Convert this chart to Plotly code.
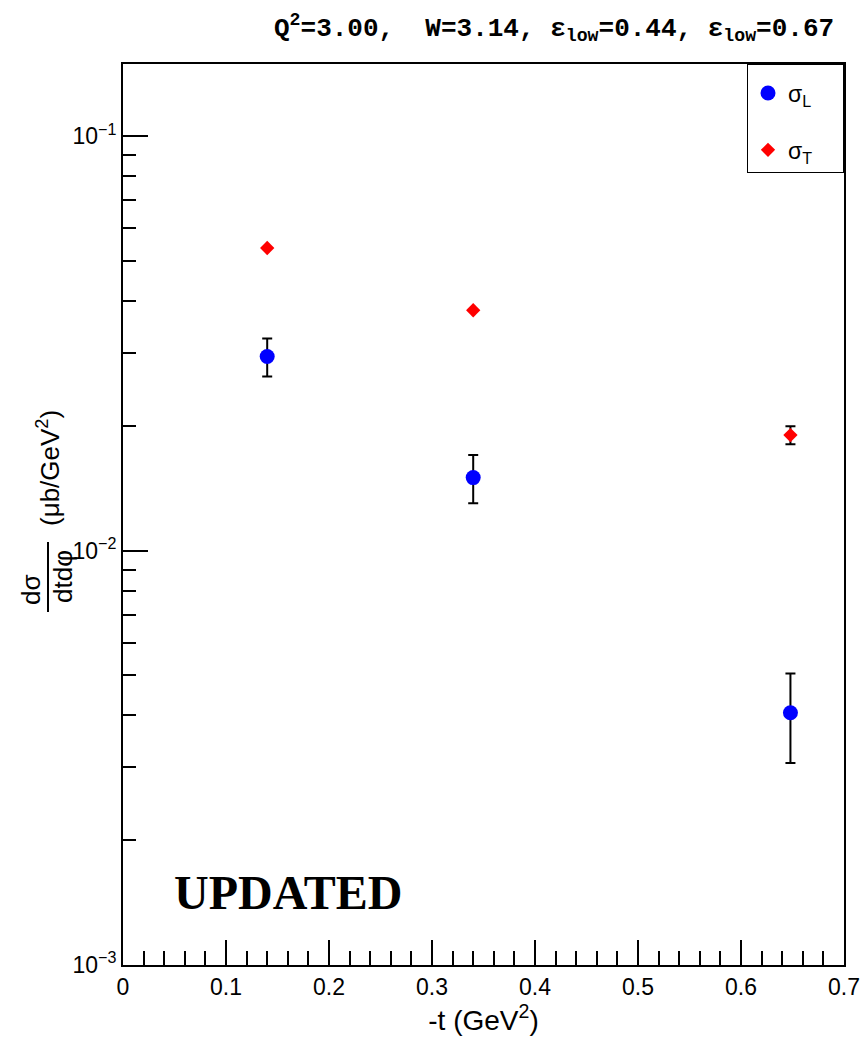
import numpy as np
import plotly.graph_objects as go

# ---- data ----
t_vals = [0.140, 0.340, 0.648]
sigL = [0.0294, 0.0150, 0.00406]
sigL_err = [0.0031, 0.0020, 0.00099]
sigT = [0.0537, 0.0380, 0.0190]
sigT_err = [None, None, 0.00094]

x_ticks = [0, 0.1, 0.2, 0.3, 0.4, 0.5, 0.6, 0.7]
x_tick_labels = ["0", "0.1", "0.2", "0.3", "0.4", "0.5", "0.6", "0.7"]
y_ticks = [0.001, 0.01, 0.1]
y_tick_labels = ["10<sup>\u22123</sup>", "10<sup>\u22122</sup>", "10<sup>\u22121</sup>"]
y_minor = [m * d for d in (0.001, 0.01, 0.1) for m in range(2, 10) if m * d < 0.15]

title_text = ("Q<sup>2</sup>=3.00,  W=3.14, \u03b5<sub>low</sub>=0.44, "
              "\u03b5<sub>low</sub>=0.67")

W, H = 863, 1048
L, R, T, B = 123, 19, 64, 83
pw, ph = W - L - R, H - T - B


def px(xp):
    return (xp - L) / pw


def py(yp):
    return 1 - (yp - T) / ph


NB = "\u00a0"

fig = go.Figure()
fig.add_trace(go.Scatter(
    x=t_vals, y=sigL, mode="markers", name="\u03c3<sub>L</sub>" + NB * 4,
    legendgroup="L",
    marker=dict(symbol="circle", size=15, color="#0000ff"),
    error_y=dict(type="data", array=sigL_err, visible=True, color="black",
                 thickness=2, width=5),
))
fig.add_trace(go.Scatter(
    x=t_vals, y=sigT, mode="markers", name="\u03c3<sub>T</sub>" + NB * 4,
    legendgroup="T",
    marker=dict(symbol="diamond", size=11, color="#ff0000"),
    error_y=dict(type="data", array=sigT_err, visible=True, color="black",
                 thickness=2, width=5),
))

tick_font = dict(family="Liberation Sans, Arial, sans-serif", size=23, color="black")
title_font = dict(family="Liberation Sans, Arial, sans-serif", size=26, color="black")

fig.update_layout(
    width=W, height=H,
    margin=dict(l=L, r=R, t=T, b=B, pad=0, autoexpand=False),
    paper_bgcolor="white", plot_bgcolor="white",
    showlegend=True,
    legend=dict(
        x=px(747), y=1, xanchor="left", yanchor="top",
        bordercolor="black", borderwidth=1, bgcolor="white",
        font=dict(family="Liberation Sans, Arial, sans-serif", size=23, color="black"),
        title=dict(text=NB, font=dict(size=5)),
        tracegroupgap=24, traceorder="grouped",
        itemwidth=30,
    ),
    xaxis=dict(
        range=[0, 0.7], tickmode="array", tickvals=x_ticks, ticktext=x_tick_labels,
        ticks="inside", ticklen=25, tickwidth=1.5, tickcolor="black",
        showline=True, linecolor="black", linewidth=2, mirror=True,
        showgrid=False, zeroline=False, automargin=False,
        tickfont=tick_font,
        minor=dict(dtick=0.02, tick0=0, ticks="inside", ticklen=14, tickwidth=1.5,
                   tickcolor="black", showgrid=False),
        title=dict(text="-t (GeV<sup>2</sup>)",
                   font=dict(family="Liberation Sans, Arial, sans-serif", size=28,
                             color="black"),
                   standoff=12),
    ),
    yaxis=dict(
        type="log", range=[-3, -0.826],
        tickmode="array", tickvals=y_ticks, ticktext=y_tick_labels,
        ticks="inside", ticklen=25, tickwidth=1.5, tickcolor="black",
        showline=True, linecolor="black", linewidth=2, mirror=True,
        showgrid=False, zeroline=False, automargin=False,
        tickfont=tick_font,
        minor=dict(tickmode="array", tickvals=y_minor, ticks="inside", ticklen=13,
                   tickwidth=1.5, tickcolor="black", showgrid=False),
    ),
)

# title (monospace, bold)
fig.add_annotation(
    text="<b>" + title_text + "</b>", xref="paper", yref="paper",
    x=px(554), y=py(28), xanchor="center", yanchor="middle", showarrow=False,
    font=dict(family="Liberation Mono, Courier New, monospace", size=26, color="black"),
)

# y axis title, built as a fraction
fig.add_annotation(text="d\u03c3", xref="paper", yref="paper", x=px(31), y=py(590),
                   textangle=-90, showarrow=False, font=title_font,
                   xanchor="center", yanchor="middle")
fig.add_annotation(text="dtd\u03c6", xref="paper", yref="paper", x=px(63), y=py(577),
                   textangle=-90, showarrow=False, font=title_font,
                   xanchor="center", yanchor="middle")
fig.add_shape(type="line", xref="paper", yref="paper",
              x0=px(48), x1=px(48), y0=py(542), y1=py(612),
              line=dict(color="black", width=2))
fig.add_annotation(text="(\u03bcb/GeV<sup>2</sup>)", xref="paper", yref="paper",
                   x=px(48), y=py(468), textangle=-90, showarrow=False, font=title_font,
                   xanchor="center", yanchor="middle")

# UPDATED label
fig.add_annotation(text="<b>UPDATED</b>", xref="paper", yref="paper",
                   x=px(172), y=py(892), xanchor="left", yanchor="middle",
                   showarrow=False,
                   font=dict(family="Liberation Serif, Times New Roman, serif",
                             size=48, color="black"))

post = ("document.documentElement.style.margin='0';"
        "document.body.style.margin='0';"
        "document.documentElement.style.overflow='hidden';"
        "document.body.style.overflow='hidden';")
fig.write_html("out.html", post_script=post, config={"displayModeBar": False})
